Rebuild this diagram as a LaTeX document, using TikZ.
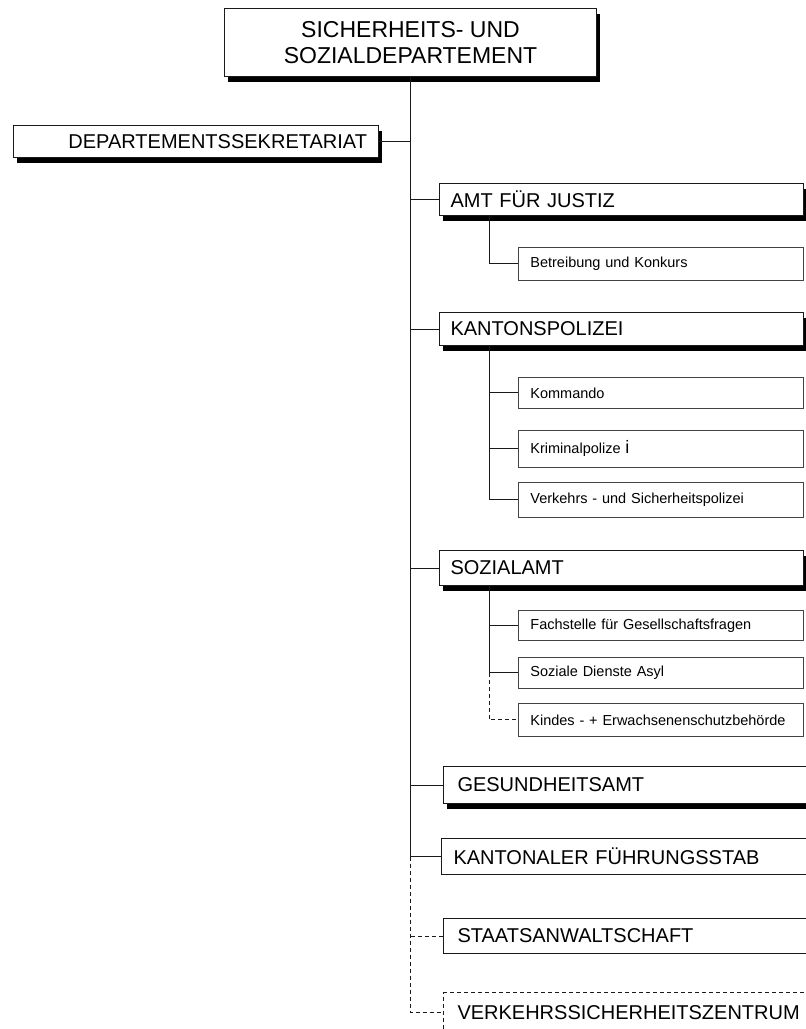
\documentclass[tikz,border=0pt]{standalone}
\usepackage{fontspec}
\setmainfont{Liberation Sans}
\usetikzlibrary{positioning,calc,shadows}
\definecolor{Frame}{HTML}{1A1A1A}
\definecolor{SubFrame}{HTML}{444444}
\tikzset{
  shadowed/.style={drop shadow={shadow xshift=3pt, shadow yshift=-5pt, fill=black, opacity=1}},
  topbox/.style={rectangle, draw=Frame, fill=white, line width=1pt, anchor=north west, align=center, font=\fontsize{23}{26}\selectfont},
  deptbox/.style={rectangle, draw=Frame, fill=white, line width=1pt, anchor=north west, align=left, inner xsep=11pt, inner ysep=0pt, text width=342pt, font=\fontsize{20}{22}\selectfont},
  unitbox/.style={rectangle, draw=SubFrame, fill=white, line width=0.8pt, anchor=north west, align=left, inner xsep=12pt, inner ysep=0pt, text width=261pt, minimum width=285pt, font=\fontsize{14.5}{16}\selectfont},
  link/.style={draw=Frame, line width=1pt},
  sublink/.style={draw=Frame, line width=0.9pt},
  dashlink/.style={draw=Frame, line width=0.9pt, dash pattern=on 4pt off 3pt},
}
\begin{document}
\begin{tikzpicture}[x=1pt,y=-1pt]
\useasboundingbox (0,0) rectangle (806,1029);
\fill[white] (0,0) rectangle (806,1029);
\clip (0,0) rectangle (806,1029);

% head of department
\node[topbox,shadowed,minimum width=372pt,minimum height=68pt] (top) at (224,8) {SICHERHEITS- UND\\SOZIALDEPARTEMENT};
\node[deptbox,shadowed,align=right,minimum width=365pt,minimum height=32pt] (sek) at (13,125) {DEPARTEMENTSSEKRETARIAT};

% offices
\node[deptbox,shadowed,minimum width=364pt,minimum height=32pt] (amt) at (439,183) {AMT FÜR JUSTIZ};
\node[deptbox,shadowed,minimum width=364pt,minimum height=33pt] (kapo) at (439,312) {KANTONSPOLIZEI};
\node[deptbox,shadowed,minimum width=364pt,minimum height=35pt] (soz) at (439,550) {SOZIALAMT};
\node[deptbox,shadowed,inner xsep=10pt,minimum width=370pt,minimum height=37pt] (gesund) at (443,766) {GESUNDHEITSAMT};
\node[deptbox,inner xsep=12pt,minimum width=364pt,minimum height=36pt] (kfs) at (441,838) {KANTONALER FÜHRUNGSSTAB};
\node[deptbox,inner xsep=10pt,minimum width=370pt,minimum height=35pt] (staw) at (443,918) {STAATSANWALTSCHAFT};
\node[deptbox,dash pattern=on 4pt off 3pt,inner xsep=10pt,minimum width=370pt,minimum height=40pt] (vsz) at (443,992) {VERKEHRSSICHERHEITSZENTRUM};

% units
\node[unitbox,minimum height=33pt] (betr) at (518,247) {Betreibung und Konkurs};
\node[unitbox,minimum height=31pt] (komm) at (518,377) {Kommando};
\node[unitbox,minimum height=37pt] (krim) at (518,430) {Kriminalpolize {\fontsize{18}{18}\selectfont i}};
\node[unitbox,minimum height=35pt] (verk) at (518,482) {Verkehrs - und Sicherheitspolizei};
\node[unitbox,minimum height=30pt] (fach) at (518,610) {Fachstelle für Gesellschaftsfragen};
\node[unitbox,minimum height=31pt] (asyl) at (518,657) {Soziale Dienste Asyl};
\node[unitbox,minimum height=33pt] (kesb) at (518,703) {Kindes - + Erwachsenenschutzbehörde};

% main trunk
\draw[link] (top.south) -- (top.south |- kfs.west);
\draw[link] (top.south |- sek.east) -- (sek.east);
\foreach \n in {amt,kapo,soz,gesund,kfs}{
  \draw[link] (top.south |- \n.west) -- (\n.west);
}
\draw[dashlink] (top.south |- kfs.west) -- (top.south |- vsz.west) -- (vsz.west);
\draw[dashlink] (top.south |- staw.west) -- (staw.west);

% sub trunks
\coordinate (amtx) at ($(amt.south west)+(50,0)$);
\coordinate (kapox) at ($(kapo.south west)+(50,0)$);
\coordinate (sozx) at ($(soz.south west)+(50,0)$);
\draw[sublink] (amtx) |- (betr.west);
\draw[sublink] (kapox) |- (verk.west);
\foreach \n in {komm,krim}{
  \draw[sublink] (kapox |- \n.west) -- (\n.west);
}
\draw[sublink] (sozx) -- (sozx |- asyl.west) -- (asyl.west);
\draw[sublink] (sozx |- fach.west) -- (fach.west);
\draw[dashlink] (sozx |- asyl.west) |- (kesb.west);
\end{tikzpicture}
\end{document}
